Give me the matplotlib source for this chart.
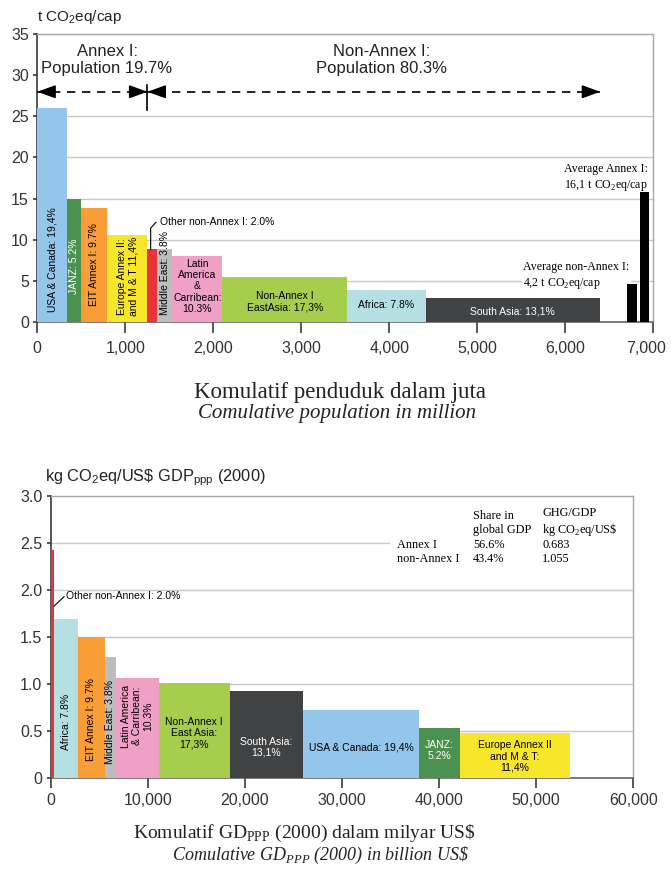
import matplotlib
matplotlib.use('Agg')

import matplotlib.pyplot as plt
import matplotlib.transforms as mtransforms
from matplotlib import font_manager

# --- data: emissions per capita vs cumulative population ---
POP_REGIONS = ['USA & Canada', 'JANZ', 'EIT Annex I', 'Europe Annex II and M & T',
               'Other non-Annex I', 'Middle East', 'Latin America & Carribean',
               'Non-Annex I East Asia', 'Africa', 'South Asia']
POP_MILLION = [341, 156, 300, 455, 114, 170, 569, 1415, 899, 1975]
CO2_PER_CAP = [26.0, 15.0, 13.9, 10.6, 8.8, 8.8, 8.0, 5.5, 3.9, 2.9]
POP_LABELS = ['USA & Canada: 19,4%', 'JANZ: 5.2%', 'EIT Annex I: 9.7%',
              'Europe Annex II:\nand M & T 11,4%', '', 'Middle East: 3.8%',
              'Latin\nAmerica\n&\nCarribean:\n10.3%', 'Non-Annex I\nEastAsia: 17,3%',
              'Africa: 7.8%', 'South Asia: 13,1%']

AVG_START = [6705, 6857]
AVG_WIDTH = [117, 94]
AVG_CO2_PER_CAP = [4.6, 15.8]

# --- data: emissions per GDP vs cumulative GDP ---
GDP_REGIONS = ['Other non-Annex I', 'Africa', 'EIT Annex I', 'Middle East',
               'Latin America & Carribean', 'Non-Annex I East Asia', 'South Asia',
               'USA & Canada', 'JANZ', 'Europe Annex II and M & T']
GDP_BILLION = [330, 2440, 2810, 1130, 4400, 7340, 7490, 12010, 4190, 11330]
CO2_PER_GDP = [2.43, 1.69, 1.50, 1.29, 1.07, 1.01, 0.93, 0.73, 0.53, 0.48]
GDP_LABELS = ['', 'Africa: 7.8%', 'EIT Annex I: 9.7%', 'Middle East: 3.8%',
              'Latin America\n& Carribean:\n10.3%', 'Non-Annex I\nEast Asia:\n17,3%',
              'South Asia:\n13,1%', 'USA & Canada: 19,4%', 'JANZ:\n5.2%',
              'Europe Annex II\nand M & T:\n11,4%']

SHARE_ROWS = ['Annex I', 'non-Annex I']
SHARE_GDP = ['56.6%', '43.4%']
GHG_PER_GDP = ['0.683', '1.055']

# --- styling ---
REGION_COLORS = {
    'USA & Canada': '#93c6ea',
    'JANZ': '#4b9150',
    'EIT Annex I': '#f99d36',
    'Europe Annex II and M & T': '#f8e62b',
    'Other non-Annex I': '#e8323c',
    'Middle East': '#bcbdbf',
    'Latin America & Carribean': '#f09fc6',
    'Non-Annex I East Asia': '#a6cd4b',
    'Africa': '#b4e0e3',
    'South Asia': '#414244',
}
WHITE_TEXT = {'JANZ', 'South Asia'}
# label placement: (rotation, y)
POP_LABEL_POS = [(90, 7.5), (90, 6.7), (90, 7.0), (90, 5.5), (0, 0), (90, 5.9),
                 (0, 4.3), (0, 2.4), (0, 2.0), (0, 1.3)]
GDP_LABEL_POS = [(0, 0), (90, 0.60), (90, 0.62), (90, 0.60), (90, 0.66),
                 (0, 0.48), (0, 0.33), (0, 0.33), (0, 0.30), (0, 0.23)]

COLOR_GRID = '#c8c8c8'
COLOR_FRAME = '#a8a8a8'
COLOR_AXIS = '#2a2a2a'
COLOR_TICKTXT = '#333333'
LABEL_SIZE = 7.5

_names = {f.name for f in font_manager.fontManager.ttflist}
NARROW = 'Liberation Sans Narrow' if 'Liberation Sans Narrow' in _names else 'Liberation Sans'
SANS = 'Liberation Sans'
SERIF = 'Liberation Serif'

plt.rcParams['font.family'] = SANS


def edges(widths):
    lefts, acc = [], 0
    for w in widths:
        lefts.append(acc)
        acc += w
    return lefts


def style_axes(ax, xticks, yticks, xfmt, yfmt, xlen, xpad):
    for s in ('top', 'right'):
        ax.spines[s].set_color(COLOR_FRAME)
        ax.spines[s].set_linewidth(1.0)
    ax.spines['left'].set_color(COLOR_AXIS)
    ax.spines['bottom'].set_color('#555555')
    ax.spines['left'].set_linewidth(1.1)
    ax.spines['bottom'].set_linewidth(1.1)
    ax.set_xticks(xticks)
    ax.set_xticklabels([xfmt(v) for v in xticks])
    ax.set_yticks(yticks)
    ax.set_yticklabels([yfmt(v) for v in yticks])
    ax.tick_params(axis='x', direction='out', length=xlen, width=1.1, pad=xpad,
                   labelsize=11.5, colors=COLOR_AXIS, labelcolor=COLOR_TICKTXT)
    ax.tick_params(axis='y', direction='out', length=3, width=1.1, pad=3,
                   labelsize=11.5, colors=COLOR_AXIS, labelcolor=COLOR_TICKTXT)


fig = plt.figure(figsize=(6.71, 8.77), dpi=100)
fig.patch.set_facecolor('white')

# ================= top chart =================
ax1 = fig.add_axes([0.0556, 0.6332, 0.9176, 0.3277])
lefts = edges(POP_MILLION)
ax1.bar(lefts, CO2_PER_CAP, width=POP_MILLION, align='edge',
        color=[REGION_COLORS[r] for r in POP_REGIONS], linewidth=0, zorder=3)
ax1.bar(AVG_START, AVG_CO2_PER_CAP, width=AVG_WIDTH, align='edge',
        color='black', linewidth=0, zorder=3)

for y in (5, 10, 15, 20, 25):
    ax1.axhline(y, color=COLOR_GRID, lw=1.0, zorder=1)

for left, w, lab, reg, (rot, ly) in zip(lefts, POP_MILLION, POP_LABELS,
                                         POP_REGIONS, POP_LABEL_POS):
    if not lab:
        continue
    col = 'white' if reg in WHITE_TEXT else 'black'
    ax1.text(left + w / 2, ly, lab, rotation=rot, ha='center', va='center',
             fontsize=LABEL_SIZE, family=NARROW, color=col, linespacing=1.15, zorder=5)

# other non-Annex I leader line
red_i = POP_REGIONS.index('Other non-Annex I')
red_x = lefts[red_i] + POP_MILLION[red_i] / 2 - 20
ax1.plot([red_x, red_x, red_x + 60], [CO2_PER_CAP[red_i], 11.4, 12.1],
         color='black', lw=0.8, zorder=5)
ax1.text(red_x + 110, 12.1, 'Other non-Annex I: 2.0%', ha='left', va='center',
         fontsize=LABEL_SIZE, family=NARROW, zorder=5)

# population split arrows
annex_end = sum(POP_MILLION[:4])
arrow_y = 28
ax1.plot([0, 6400], [arrow_y, arrow_y], color='black', lw=1.2,
         linestyle=(0, (5, 4)), zorder=4)
head = dict(arrowstyle='-|>,head_length=1.1,head_width=0.4', color='black',
            lw=1.2, shrinkA=0, shrinkB=0)
for tip, tail in ((0, 200), (annex_end, annex_end - 200),
                  (annex_end, annex_end + 200), (6400, 6200)):
    ax1.annotate('', xy=(tip, arrow_y), xytext=(tail, arrow_y), arrowprops=head, zorder=4)
ax1.plot([annex_end, annex_end], [25.8, 28.8], color='black', lw=1.2, zorder=4)

ax1.text(793, 31.9, 'Annex I:\nPopulation 19.7%', ha='center', va='center',
         fontsize=12, color='#222222', linespacing=1.2)
ax1.text(3910, 31.9, 'Non-Annex I:\nPopulation 80.3%', ha='center', va='center',
         fontsize=12, color='#222222', linespacing=1.2)

ax1.text(6945, 17.45, 'Average Annex I:\n16,1 t CO$_{\\mathdefault{2}}$eq/cap',
         ha='right', va='center', fontsize=8.6, family=SERIF, linespacing=1.3, zorder=5)
ax1.text(5525, 5.55, 'Average non-Annex I:\n4,2 t CO$_{\\mathdefault{2}}$eq/cap',
         ha='left', va='center', fontsize=8.6, family=SERIF, linespacing=1.3, zorder=2,
         bbox=dict(facecolor='white', edgecolor='none', pad=1.0))

ax1.set_xlim(0, 7000)
ax1.set_ylim(0, 35)
style_axes(ax1, list(range(0, 7001, 1000)), list(range(0, 36, 5)),
           lambda v: f'{v:,}', lambda v: f'{v}', 8, 6)
# keep the last tick label inside the figure
last = ax1.get_xticklabels()[-1]
last.set_transform(last.get_transform() +
                   mtransforms.ScaledTranslation(-5 / 72, 0, fig.dpi_scale_trans))

fig.text(0.055, 0.9806, 't CO$_{\\mathdefault{2}}$eq/cap', ha='left', va='center',
         fontsize=11, color='#222222')
fig.text(0.506, 0.552, 'Komulatif penduduk dalam juta', ha='center', va='center',
         fontsize=16.5, family=SERIF, color='#222222')
fig.text(0.502, 0.5285, 'Comulative population in million', ha='center', va='center',
         fontsize=15, family=SERIF, style='italic', color='#222222')

# ================= bottom chart =================
ax2 = fig.add_axes([0.0756, 0.1125, 0.8682, 0.3219])
lefts2 = edges(GDP_BILLION)
ax2.bar(lefts2, CO2_PER_GDP, width=GDP_BILLION, align='edge',
        color=[REGION_COLORS[r] for r in GDP_REGIONS], linewidth=0, zorder=3)

for y in (0.5, 1.0, 1.5, 2.0):
    ax2.axhline(y, color=COLOR_GRID, lw=1.0, zorder=1)
ax2.plot([0, 34800], [2.5, 2.5], color=COLOR_GRID, lw=1.0, zorder=1)

for left, w, lab, reg, (rot, ly) in zip(lefts2, GDP_BILLION, GDP_LABELS,
                                         GDP_REGIONS, GDP_LABEL_POS):
    if not lab:
        continue
    col = 'white' if reg in WHITE_TEXT else 'black'
    ax2.text(left + w / 2, ly, lab, rotation=rot, ha='center', va='center',
             fontsize=LABEL_SIZE, family=NARROW, color=col, linespacing=1.15, zorder=5)

ax2.plot([340, 1370], [1.83, 1.93], color='black', lw=0.8, zorder=5)
ax2.text(1550, 1.94, 'Other non-Annex I: 2.0%', ha='left', va='center',
         fontsize=LABEL_SIZE, family=NARROW, zorder=5)

# share table
ax2.text(43500, 2.715, 'Share in\nglobal GDP', ha='left', va='center', fontsize=8.8,
         family=SERIF, linespacing=1.15)
ax2.text(50600, 2.715, 'GHG/GDP\nkg CO$_{\\mathdefault{2}}$eq/US\\$', ha='left',
         va='center', fontsize=8.8, family=SERIF, linespacing=1.15)
for i, (row, share, ghg) in enumerate(zip(SHARE_ROWS, SHARE_GDP, GHG_PER_GDP)):
    y = 2.48 - i * 0.145
    ax2.text(35700, y, row, ha='left', va='center', fontsize=8.8, family=SERIF)
    ax2.text(43500, y, share, ha='left', va='center', fontsize=8.8, family=SERIF)
    ax2.text(50600, y, ghg, ha='left', va='center', fontsize=8.8, family=SERIF)

ax2.set_xlim(0, 60000)
ax2.set_ylim(0, 3.0)
style_axes(ax2, list(range(0, 60001, 10000)), [0, 0.5, 1.0, 1.5, 2.0, 2.5, 3.0],
           lambda v: f'{v:,}', lambda v: '0' if v == 0 else f'{v:.1f}', 7.5, 3)

fig.text(0.067, 0.455, 'kg CO$_{\\mathdefault{2}}$eq/US\\$ GDP$_{\\mathdefault{ppp}}$ (2000)',
         ha='left', va='center', fontsize=11.8, color='#222222')
fig.text(0.453, 0.050, 'Komulatif GD$_{\\mathdefault{PPP}}$ (2000) dalam milyar US\\$',
         ha='center', va='center', fontsize=14, family=SERIF, color='#222222')
fig.text(0.477, 0.025, 'Comulative GD$_{\\mathdefault{PPP}}$ (2000) in billion US\\$',
         ha='center', va='center', fontsize=13, family=SERIF, style='italic',
         color='#222222')

fig.savefig('out.png', dpi=100, facecolor='white')
